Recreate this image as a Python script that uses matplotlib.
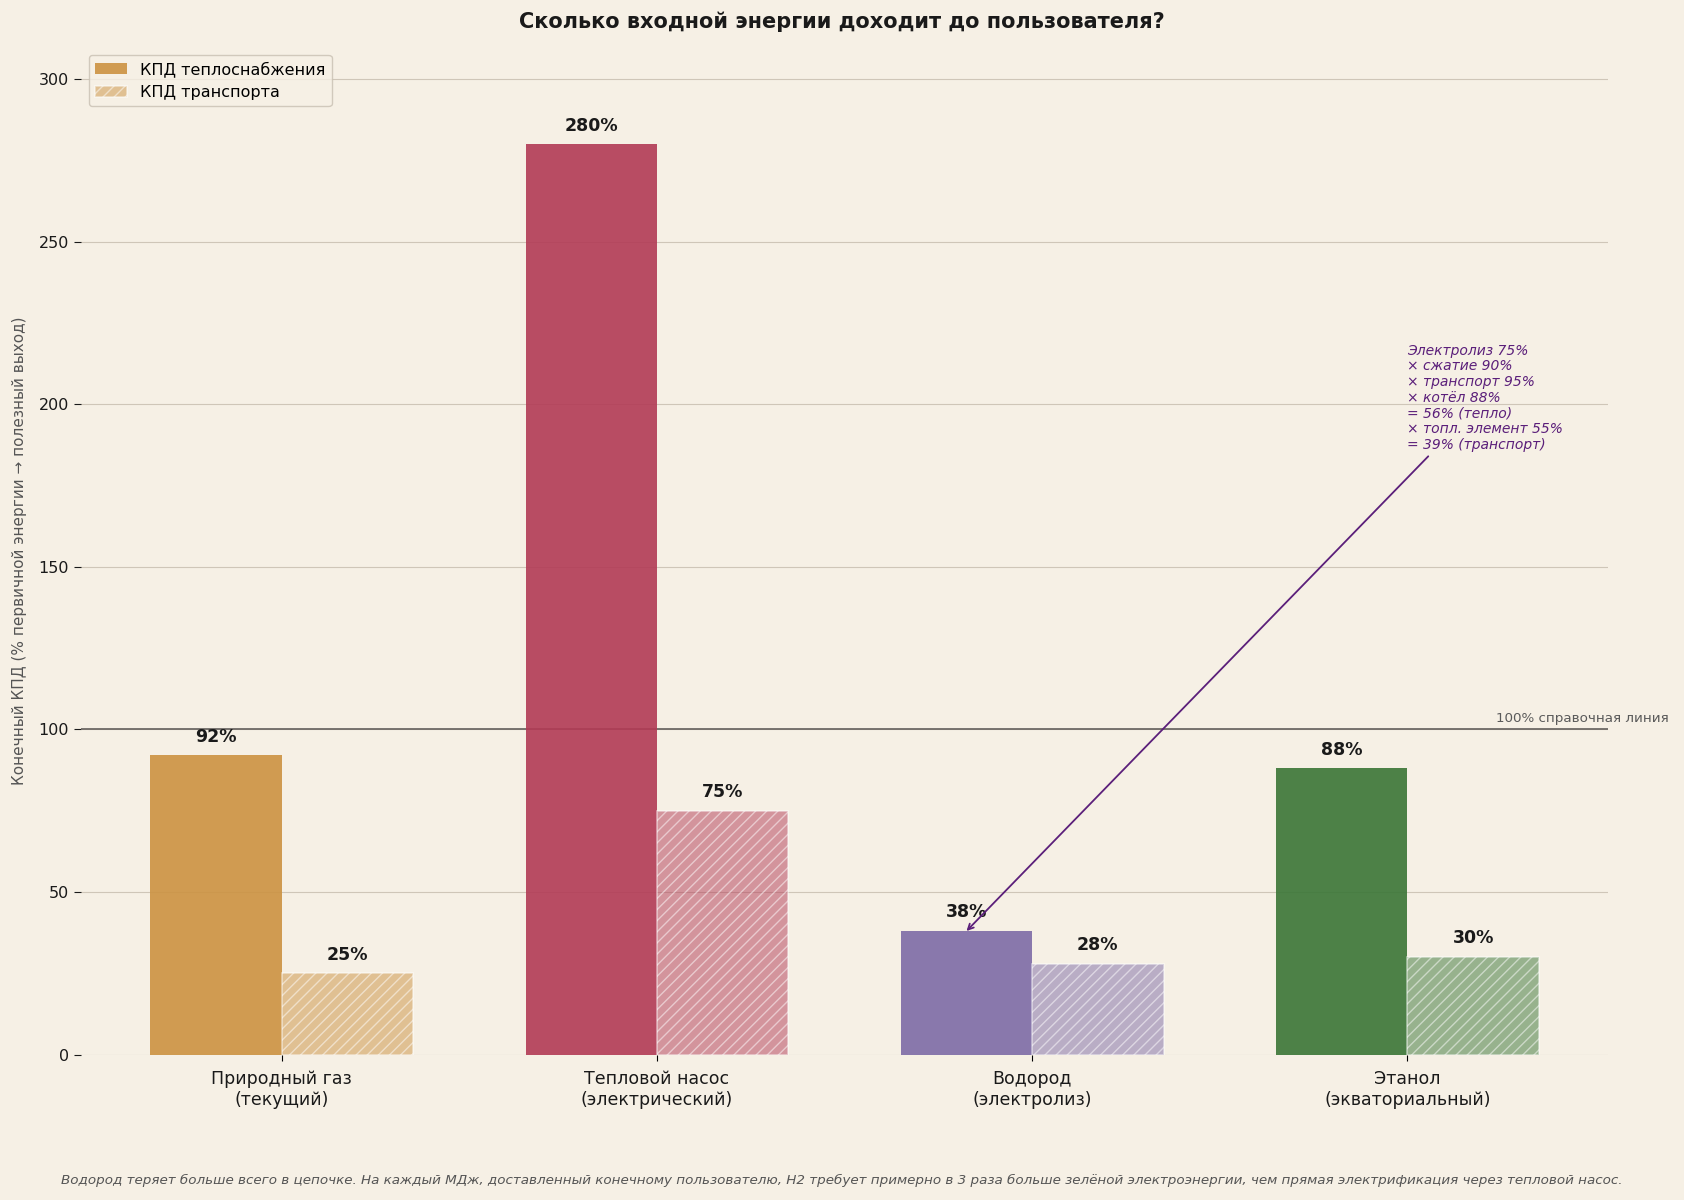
import matplotlib
matplotlib.use("Agg")
import matplotlib.pyplot as plt
import numpy as np

categories = ["Природный газ\n(текущий)", "Тепловой насос\n(электрический)",
              "Водород\n(электролиз)", "Этанол\n(экваториальный)"]
heat_eff = [92, 280, 38, 88]
transport_eff = [25, 75, 28, 30]
colors = ["#CC9241", "#B23A55", "#7D6BA6", "#3A7536"]
yticks = [0, 50, 100, 150, 200, 250, 300]

BG = "#F6F0E5"
plt.rcParams['font.family'] = ['DejaVu Sans']

fig = plt.figure(figsize=(16.84, 12), dpi=100, facecolor=BG)
ax = fig.add_axes([0.048, 0.1212, 0.907, 0.8398])
ax.set_facecolor(BG)

x = np.arange(len(categories))
w = 0.35
h_heat = h_tr = None
for i in range(len(categories)):
    b1 = ax.bar(x[i] - w/2, heat_eff[i], w, color=colors[i], alpha=0.9, zorder=3)
    b2 = ax.bar(x[i] + w/2, transport_eff[i], w, color=colors[i], alpha=0.5,
                hatch='///', edgecolor='white', linewidth=1.2, zorder=3)
    if i == 0:
        h_heat, h_tr = b1, b2
    ax.text(x[i] - w/2, heat_eff[i] + 3, f"{heat_eff[i]}%", ha='center', va='bottom',
            fontsize=12.5, fontweight='bold', color='#1a1a1a', zorder=5)
    ax.text(x[i] + w/2, transport_eff[i] + 3, f"{transport_eff[i]}%", ha='center', va='bottom',
            fontsize=12.5, fontweight='bold', color='#1a1a1a', zorder=5)

ax.set_ylim(0, 310)
ax.set_yticks(yticks)
ax.set_xticks(x)
ax.set_xticklabels(categories, fontsize=12.5, color='#1a1a1a')
ax.tick_params(axis='y', labelsize=11.5, colors='#1a1a1a', length=5)
ax.tick_params(axis='x', length=4, pad=7)
for s in ax.spines.values():
    s.set_visible(False)
ax.grid(axis='y', color='#CFC6B8', linewidth=0.8, zorder=0)

ax.axhline(100, color='#6E6A66', linewidth=1.3, zorder=2)
ax.text(1.0 + 0.0395, 100 + 1.5, "100% справочная линия", transform=ax.get_yaxis_transform(),
        ha='right', va='bottom', fontsize=9.7, color='#5a5a5a')

ax.set_ylabel("Конечный КПД (% первичной энергии → полезный выход)", fontsize=11,
              color='#555555', labelpad=8)

ann_text = ("Электролиз 75%\n× сжатие 90%\n× транспорт 95%\n× котёл 88%\n"
            "= 56% (тепло)\n× топл. элемент 55%\n= 39% (транспорт)")
ax.annotate(ann_text, xy=(x[2] - w/2, heat_eff[2]), xytext=(3.0, 185.5),
            ha='left', va='bottom', fontsize=10, fontstyle='italic', color='#5B1F7A',
            linespacing=1.15,
            arrowprops=dict(arrowstyle='->', color='#5B1F7A', lw=1.3,
                            shrinkA=2, shrinkB=0), zorder=6)

leg = ax.legend([h_heat, h_tr], ["КПД теплоснабжения", "КПД транспорта"], loc='upper left',
                fontsize=11.5, frameon=True, facecolor=BG, edgecolor='#C8C0B2')

fig.suptitle("Сколько входной энергии доходит до пользователя?", fontsize=15,
             fontweight='bold', color='#1a1a1a', y=0.99, va='top')

fig.text(0.5, 0.0165, "Водород теряет больше всего в цепочке. На каждый МДж, доставленный конечному "
         "пользователю, H2 требует примерно в 3 раза больше зелёной электроэнергии, чем прямая "
         "электрификация через тепловой насос.", ha='center', va='center', fontsize=9.7,
         fontstyle='italic', color='#555555')

fig.savefig("out.png", dpi=100, facecolor=BG)
